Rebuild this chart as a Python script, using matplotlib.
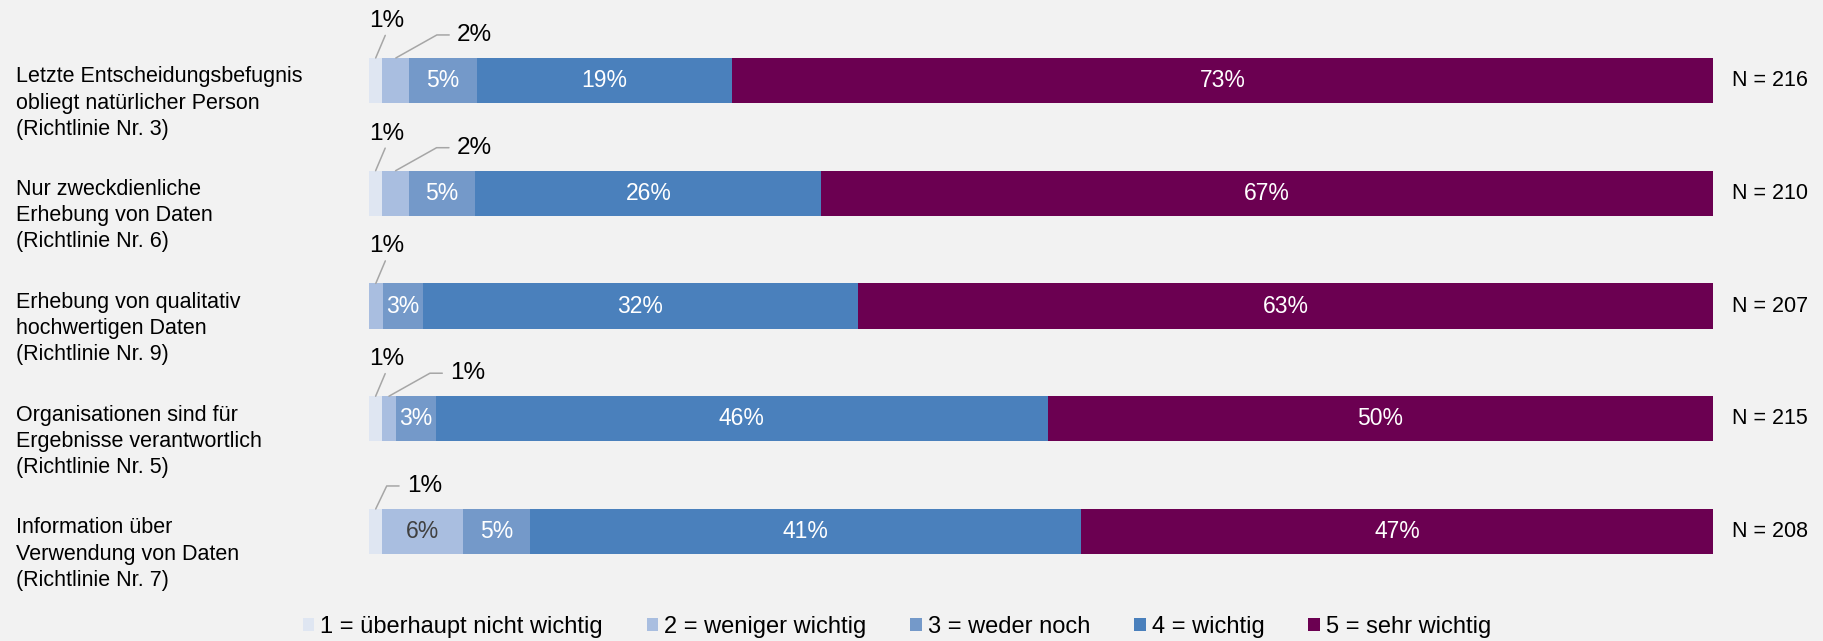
import numpy as np
import matplotlib.pyplot as plt
from matplotlib.patches import Patch
from matplotlib.transforms import blended_transform_factory

plt.rcParams['font.family'] = ['Liberation Sans', 'DejaVu Sans']

# Richtlinien (top to bottom)
items = [
    "Letzte Entscheidungsbefugnis\nobliegt natürlicher Person\n(Richtlinie Nr. 3)",
    "Nur zweckdienliche\nErhebung von Daten\n(Richtlinie Nr. 6)",
    "Erhebung von qualitativ\nhochwertigen Daten\n(Richtlinie Nr. 9)",
    "Organisationen sind für\nErgebnisse verantwortlich\n(Richtlinie Nr. 5)",
    "Information über\nVerwendung von Daten\n(Richtlinie Nr. 7)",
]
n_values = [216, 210, 207, 215, 208]

levels = ["1 = überhaupt nicht wichtig", "2 = weniger wichtig", "3 = weder noch",
          "4 = wichtig", "5 = sehr wichtig"]

# percent per answer level
nicht_wichtig = [1, 1, 0, 1, 1]
weniger_wichtig = [2, 2, 1, 1, 6]
weder_noch = [5, 5, 3, 3, 5]
wichtig = [19, 26, 32, 46, 41]
sehr_wichtig = [73, 67, 63, 50, 47]

colors = ["#dfe6f2", "#a9bee0", "#7499c9", "#4a80bc", "#6b0051"]
bg = "#f2f2f2"
lead = "#a6a6a6"

# small segments get a label outside the bar with a leader line
# 'up' = label straight above, number = horizontal run of the bent leader
callouts = {(0, 0): 'up', (0, 1): 41, (1, 0): 'up', (1, 1): 41,
            (2, 1): 'up', (3, 0): 'up', (3, 1): 41, (4, 0): 11}

data = np.array([nicht_wichtig, weniger_wichtig, weder_noch, wichtig, sehr_wichtig]).T
shares = data / data.sum(axis=1, keepdims=True) * 100
rows = np.arange(len(items))
bar_h = 0.4

fig = plt.figure(figsize=(18.23, 6.41), dpi=100, facecolor=bg)
ax = fig.add_axes([0.2024, 0.0, 0.7373, 1.0])
ax.set_facecolor(bg)
ax.set_xlim(0, 100)
ax.set_ylim(4.971, -0.714)
ax.axis('off')

left = np.zeros(len(items))
for j in range(len(levels)):
    ax.barh(rows, shares[:, j], left=left, height=bar_h, color=colors[j], linewidth=0)
    for i in rows:
        v = data[i, j]
        if v == 0:
            continue
        xc = left[i] + shares[i, j] / 2
        style = callouts.get((i, j))
        if style is None:
            ax.text(xc, i, f"{v}%", ha='center', va='center', fontsize=16.5,
                    color="#404040" if j == 1 else "white")
        elif style == 'up':
            ax.annotate(f"{v}%", xy=(xc, i - bar_h / 2), xytext=(11, 37),
                        textcoords='offset pixels', ha='center', va='center', fontsize=17.5,
                        arrowprops=dict(arrowstyle='-', color=lead, lw=1.1,
                                        shrinkA=0.5, shrinkB=0, relpos=(0.5, 0)))
        else:
            ang = np.degrees(np.arctan2(23, style))
            ax.annotate(f"{v}%", xy=(xc, i - bar_h / 2), xytext=(style + 20, 23),
                        textcoords='offset pixels', ha='left', va='center', fontsize=17.5,
                        arrowprops=dict(arrowstyle='-', color=lead, lw=1.1,
                                        shrinkA=3.5, shrinkB=0, relpos=(0, 0.5),
                                        connectionstyle=f"angle,angleA=0,angleB={ang:.1f},rad=0"))
    left += shares[:, j]

# sample size right of each bar
for i, n in zip(rows, n_values):
    ax.annotate(f"N = {n}", xy=(100, i), xytext=(19, 0), textcoords='offset pixels',
                ha='left', va='center', fontsize=15.5)

# item labels on the left
tr = blended_transform_factory(fig.transFigure, ax.transData)
for i, name in zip(rows, items):
    ax.text(0.0088, i + 0.2, name, transform=tr, ha='left', va='center',
            fontsize=15.5, linespacing=1.32)

handles = [Patch(facecolor=c, edgecolor='none') for c in colors]
fig.legend(handles, levels, loc='center', bbox_to_anchor=(0.492, 0.022), ncol=5,
           frameon=False, fontsize=17, handlelength=0.5, handleheight=0.5,
           handletextpad=0.25, columnspacing=1.85, borderaxespad=0)

fig.savefig("out.png", dpi=100, facecolor=bg)
